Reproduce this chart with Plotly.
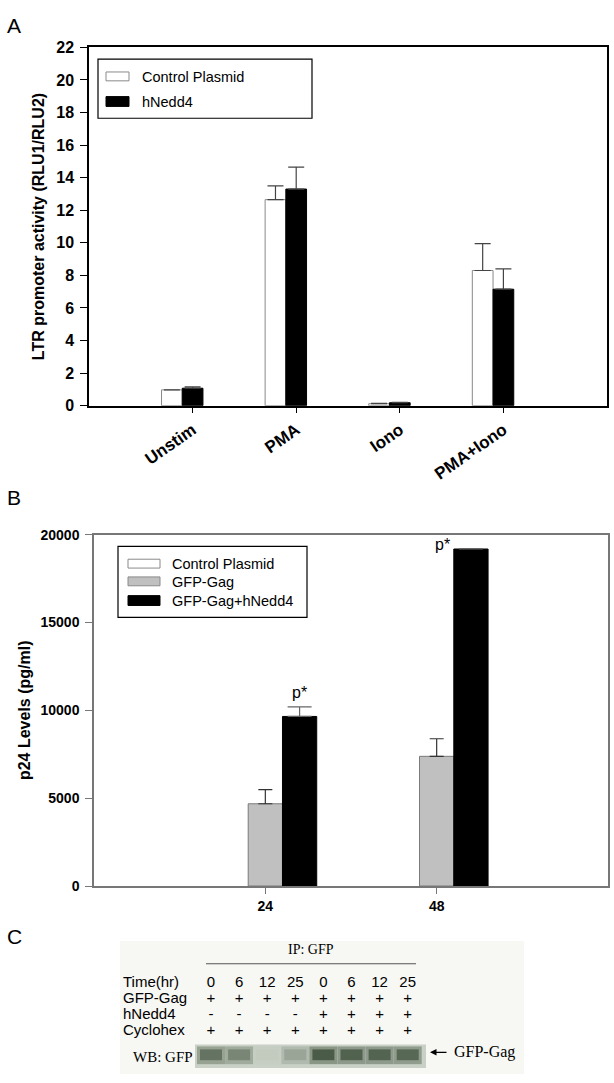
import plotly.graph_objects as go

W, H = 614, 1083

# ---------------- Panel A data ----------------
a_categories = ["Unstim", "PMA", "Iono", "PMA+Iono"]
a_control = [0.97, 12.65, 0.12, 8.3]
a_control_err = [0.0, 0.85, 0.02, 1.65]
a_hnedd4 = [1.07, 13.3, 0.18, 7.15]
a_hnedd4_err = [0.08, 1.35, 0.03, 1.25]
a_yticks = list(range(0, 23, 2))
a_series = ["Control Plasmid", "hNedd4"]

# ---------------- Panel B data ----------------
b_categories = ["24", "48"]
b_control = [0, 0]
b_gfp_gag = [4680, 7380]
b_gfp_gag_err = [800, 1000]
b_gfp_hnedd4 = [9650, 19180]
b_gfp_hnedd4_err = [550, 30]
b_yticks = [0, 5000, 10000, 15000, 20000]
b_sig = ["p*", "p*"]
b_series = ["Control Plasmid", "GFP-Gag", "GFP-Gag+hNedd4"]

# ---------------- Panel C data ----------------
c_row_labels = ["Time(hr)", "GFP-Gag", "hNedd4", "Cyclohex"]
c_time = ["0", "6", "12", "25", "0", "6", "12", "25"]
c_gfp_gag = ["+", "+", "+", "+", "+", "+", "+", "+"]
c_hnedd4 = ["-", "-", "-", "-", "+", "+", "+", "+"]
c_cyclohex = ["+", "+", "+", "+", "+", "+", "+", "+"]
c_band = [0.75, 0.6, 0.04, 0.35, 0.95, 0.9, 0.88, 0.85]

SANS = "Liberation Sans, Arial, sans-serif"
SERIF = "Liberation Serif, Times New Roman, serif"


def px(x):
    return x / W


def py(y):
    return 1 - y / H


fig = go.Figure()

# ---------- Panel A bars ----------
xa = list(range(len(a_categories)))
fig.add_trace(go.Bar(
    x=[i - 0.2 for i in xa], y=a_control, width=0.2, name=a_series[0],
    marker=dict(color="white", line=dict(color="#8a8a8a", width=1)),
    error_y=dict(type="data", array=a_control_err, arrayminus=[0] * 4,
                 symmetric=False, color="#444", thickness=1.2, width=8),
    xaxis="x", yaxis="y", showlegend=False))
fig.add_trace(go.Bar(
    x=xa, y=a_hnedd4, width=0.2, name=a_series[1],
    marker=dict(color="black", line=dict(color="black", width=1)),
    error_y=dict(type="data", array=a_hnedd4_err, arrayminus=[0] * 4,
                 symmetric=False, color="#444", thickness=1.2, width=8),
    xaxis="x", yaxis="y", showlegend=False))

# ---------- Panel B bars ----------
xb = list(range(len(b_categories)))
fig.add_trace(go.Bar(
    x=[i - 0.2 for i in xb], y=b_control, width=0.2, name=b_series[0],
    marker=dict(color="white", line=dict(color="#8a8a8a", width=0)),
    xaxis="x2", yaxis="y2", showlegend=False))
fig.add_trace(go.Bar(
    x=xb, y=b_gfp_gag, width=0.2, name=b_series[1],
    marker=dict(color="#c0c0c0", line=dict(color="#7a7a7a", width=1)),
    error_y=dict(type="data", array=b_gfp_gag_err, arrayminus=[0] * 2,
                 symmetric=False, color="#333", thickness=1.2, width=7),
    xaxis="x2", yaxis="y2", showlegend=False))
fig.add_trace(go.Bar(
    x=[i + 0.2 for i in xb], y=b_gfp_hnedd4, width=0.2, name=b_series[2],
    marker=dict(color="black", line=dict(color="black", width=1)),
    error_y=dict(type="data", array=b_gfp_hnedd4_err, arrayminus=[0] * 2,
                 symmetric=False, color="#666", thickness=1.2, width=12),
    xaxis="x2", yaxis="y2", showlegend=False))

# ---------- Panel C (pixel-like hidden axes) ----------
lane_x = [211 + 28.1 * i for i in range(len(c_time))]
row_y = [991, 1007, 1023, 1040]
rows = [c_time, c_gfp_gag, c_hnedd4, c_cyclohex]

fig.add_trace(go.Scatter(
    x=[123] * 4, y=row_y, text=c_row_labels, mode="text",
    textposition="middle right",
    textfont=dict(family=SANS, size=15, color="black"),
    xaxis="x3", yaxis="y3", showlegend=False, hoverinfo="skip"))
for r, vals in enumerate(rows):
    fig.add_trace(go.Scatter(
        x=lane_x, y=[row_y[r]] * len(vals), text=vals, mode="text",
        textposition="middle center",
        textfont=dict(family=SANS, size=15, color="black"),
        xaxis="x3", yaxis="y3", showlegend=False, hoverinfo="skip"))

shapes = []
annotations = []

# Panel C background and blot
shapes.append(dict(type="rect", xref="x3", yref="y3", x0=120, x1=524, y0=948, y1=1083,
                   fillcolor="#f7f7f4", line=dict(width=0), layer="below"))
shapes.append(dict(type="line", xref="x3", yref="y3", x0=206, x1=416, y0=971, y1=971,
                   line=dict(color="#555", width=1.2)))
shapes.append(dict(type="rect", xref="x3", yref="y3", x0=195, x1=426, y0=1053, y1=1077,
                   fillcolor="#c9d0c5", line=dict(width=0)))
bg = (201, 208, 197)
dark = (68, 86, 66)


def mix(v):
    return "rgb(%d,%d,%d)" % tuple(int(bg[k] + (dark[k] - bg[k]) * v) for k in range(3))


for xl, v in zip(lane_x, c_band):
    shapes.append(dict(type="rect", xref="x3", yref="y3", x0=xl - 14, x1=xl + 14,
                       y0=1055, y1=1073, fillcolor=mix(v * 0.5), line=dict(width=0)))
    shapes.append(dict(type="rect", xref="x3", yref="y3", x0=xl - 11, x1=xl + 11,
                       y0=1058, y1=1069, fillcolor=mix(v), line=dict(width=0)))

annotations.append(dict(xref="x3", yref="y3", x=311, y=957, text="IP: GFP", showarrow=False,
                        xanchor="center", yanchor="middle",
                        font=dict(family=SERIF, size=14, color="black")))
annotations.append(dict(xref="x3", yref="y3", x=131, y=1066, text="WB: GFP", showarrow=False,
                        xanchor="left", yanchor="middle",
                        font=dict(family=SERIF, size=15, color="black")))
annotations.append(dict(xref="x3", yref="y3", axref="x3", ayref="y3", x=430, y=1061,
                        ax=448, ay=1061, text="", showarrow=True, arrowhead=2,
                        arrowsize=1, arrowwidth=1.3, arrowcolor="black"))
annotations.append(dict(xref="x3", yref="y3", x=452, y=1061, text="GFP-Gag", showarrow=False,
                        xanchor="left", yanchor="middle",
                        font=dict(family=SERIF, size=16, color="black")))

# ---------- Custom legends ----------
# Panel A legend
shapes.append(dict(type="rect", xref="paper", yref="paper", x0=px(98), x1=px(312),
                   y0=py(112), y1=py(52), line=dict(color="black", width=1.2),
                   fillcolor="white"))
a_sw = [("white", "#8a8a8a", 65, 74, 70), ("black", "black", 90, 100, 96)]
for name, (fc, lc, y0, y1, yt) in zip(a_series, a_sw):
    shapes.append(dict(type="rect", xref="paper", yref="paper", x0=px(106), x1=px(129),
                       y0=py(y1), y1=py(y0), fillcolor=fc, line=dict(color=lc, width=1)))
    annotations.append(dict(xref="paper", yref="paper", x=px(140), y=py(yt), text=name,
                            showarrow=False, xanchor="left", yanchor="middle",
                            font=dict(family=SANS, size=14.5, color="black")))

# Panel B legend
shapes.append(dict(type="rect", xref="paper", yref="paper", x0=px(118), x1=px(307),
                   y0=py(619), y1=py(547), line=dict(color="black", width=1.2),
                   fillcolor="white"))
b_sw = [("white", "#8a8a8a", 560, 569, 565), ("#c0c0c0", "#8a8a8a", 578, 587, 583),
        ("black", "black", 597, 607, 602)]
for name, (fc, lc, y0, y1, yt) in zip(b_series, b_sw):
    shapes.append(dict(type="rect", xref="paper", yref="paper", x0=px(128), x1=px(160),
                       y0=py(y1), y1=py(y0), fillcolor=fc, line=dict(color=lc, width=1)))
    annotations.append(dict(xref="paper", yref="paper", x=px(170), y=py(yt), text=name,
                            showarrow=False, xanchor="left", yanchor="middle",
                            font=dict(family=SANS, size=14.5, color="black")))

# Significance labels
annotations.append(dict(xref="x2", yref="y2", x=0.2,
                        y=b_gfp_hnedd4[0] + b_gfp_hnedd4_err[0], text=b_sig[0],
                        showarrow=False, xanchor="center", yanchor="bottom", yshift=4,
                        font=dict(family=SANS, size=16, color="black")))
annotations.append(dict(xref="x2", yref="y2", x=1.035,
                        y=b_gfp_hnedd4[1] + b_gfp_hnedd4_err[1], text=b_sig[1],
                        showarrow=False, xanchor="center", yanchor="bottom", yshift=-7,
                        font=dict(family=SANS, size=16, color="black")))

# Panel letters
for letter, yy in [("A", 18), ("B", 497), ("C", 943)]:
    annotations.append(dict(xref="paper", yref="paper", x=px(14), y=py(yy), text=letter,
                            showarrow=False, xanchor="center", yanchor="middle",
                            font=dict(family=SANS, size=21, color="black")))

bold = dict(family=SANS, size=14, color="black", weight="bold")

fig.update_layout(
    width=W, height=H, margin=dict(l=0, r=0, t=0, b=0),
    paper_bgcolor="white", plot_bgcolor="white",
    barmode="overlay", showlegend=False,
    xaxis=dict(domain=[px(89), px(607)], range=[-1, 4], anchor="y",
               tickvals=xa, ticktext=a_categories, tickangle=-35,
               ticks="outside", ticklen=6, tickcolor="black", tickwidth=1,
               showline=True, linecolor="black", linewidth=1.5, mirror=True,
               showgrid=False, zeroline=False, tickfont=dict(bold, size=17)),
    yaxis=dict(domain=[py(404), py(40)], range=[0, 22], anchor="x",
               tickvals=a_yticks, ticks="outside", ticklen=7, tickcolor="black",
               showline=True, linecolor="black", linewidth=1.5, mirror=True,
               showgrid=False, zeroline=False, tickfont=dict(bold, size=16),
               ticklabelstandoff=3,
               title=dict(text="LTR promoter activity (RLU1/RLU2)",
                          font=dict(bold, size=16), standoff=8)),
    xaxis2=dict(domain=[px(94), px(608)], range=[-1, 2], anchor="y2",
                tickvals=xb, ticktext=b_categories,
                ticks="outside", ticklen=6, tickcolor="#777", tickwidth=1,
                showline=True, linecolor="#777", linewidth=1.5, mirror=True,
                showgrid=False, zeroline=False, tickfont=dict(bold, size=14)),
    yaxis2=dict(domain=[py(892), py(535)], range=[0, 20000], anchor="x2",
                tickvals=b_yticks, tickformat="d", ticks="outside", ticklen=7,
                tickcolor="#777", showline=True, linecolor="#777", linewidth=1.5,
                mirror=True, showgrid=False, zeroline=False,
                tickfont=dict(bold, size=14), ticklabelstandoff=3,
                title=dict(text="p24 Levels (pg/ml)", font=dict(bold, size=16),
                           standoff=6)),
    xaxis3=dict(domain=[0, 1], range=[0, W], visible=False, anchor="y3", fixedrange=True),
    yaxis3=dict(domain=[0, py(925)], range=[H, 925], visible=False, anchor="x3",
                fixedrange=True),
    shapes=shapes, annotations=annotations,
)

fig.write_html(
    "out.html",
    config={"displayModeBar": False},
    post_script="document.body.style.margin='0';document.body.style.overflow='hidden';",
)
